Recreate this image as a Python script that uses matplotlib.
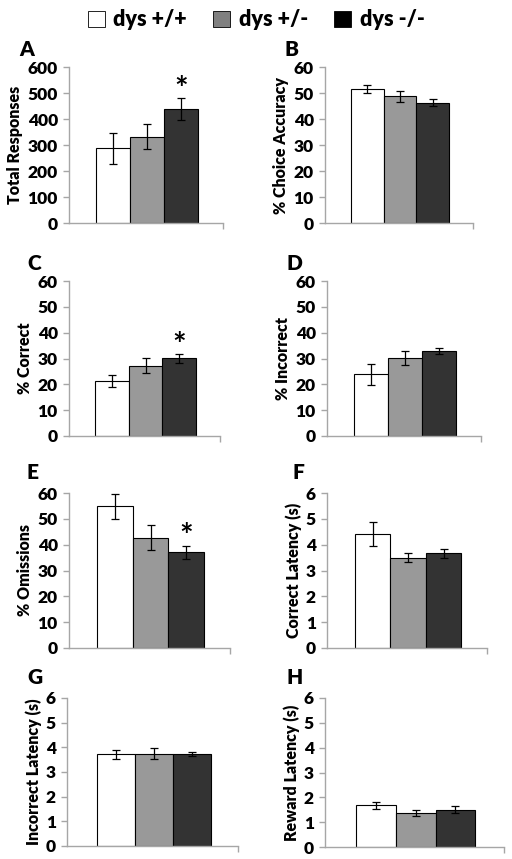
import numpy as np
import matplotlib
matplotlib.use("Agg")
import matplotlib.pyplot as plt
from matplotlib.patches import Patch

plt.rcParams['font.family'] = ['Lato', 'DejaVu Sans']
plt.rcParams['font.weight'] = 'bold'

groups = ["dys +/+", "dys +/-", "dys -/-"]
bar_colors = ["#ffffff", "#999999", "#333333"]
legend_colors = ["#ffffff", "#808080", "#000000"]

letters = ["A", "B", "C", "D", "E", "F", "G", "H"]
ylabels = ["Total Responses", "% Choice Accuracy", "% Correct", "% Incorrect",
           "% Omissions", "Correct Latency (s)", "Incorrect Latency (s)",
           "Reward Latency (s)"]
ymax = [600, 60, 60, 60, 60, 6, 6, 6]
ystep = [100, 10, 10, 10, 10, 1, 1, 1]

total_resp = [287, 332, 439]
total_resp_err = [60, 48, 42]
choice_acc = [51.5, 48.7, 46.3]
choice_acc_err = [1.5, 2.1, 1.4]
pct_correct = [21.2, 27.2, 30.1]
pct_correct_err = [2.3, 3.0, 1.7]
pct_incorrect = [23.9, 30.1, 32.9]
pct_incorrect_err = [4.1, 2.7, 1.3]
pct_omissions = [54.8, 42.7, 37.1]
pct_omissions_err = [4.9, 4.9, 2.5]
correct_lat = [4.41, 3.49, 3.67]
correct_lat_err = [0.47, 0.18, 0.17]
incorrect_lat = [3.71, 3.75, 3.73]
incorrect_lat_err = [0.19, 0.24, 0.10]
reward_lat = [1.68, 1.37, 1.51]
reward_lat_err = [0.15, 0.12, 0.15]

means = [total_resp, choice_acc, pct_correct, pct_incorrect,
         pct_omissions, correct_lat, incorrect_lat, reward_lat]
errs = [total_resp_err, choice_acc_err, pct_correct_err, pct_incorrect_err,
        pct_omissions_err, correct_lat_err, incorrect_lat_err, reward_lat_err]
signif = [True, False, True, False, True, False, False, False]

# axes boxes in pixels: left, right, top, bottom
W, H = 512, 859
boxes = [(69, 223, 67, 223), (325, 473, 67, 223),
         (69, 220, 281, 436), (327, 481, 281, 436),
         (69, 230, 493, 648), (327, 487, 493, 648),
         (67, 238, 698, 846), (325, 504, 698, 847)]
letter_pos = [(19, 49), (285, 49), (27, 263), (286, 263),
              (27, 473), (292, 473), (27, 678), (286, 677)]

fig = plt.figure(figsize=(W / 100, H / 100), dpi=100)
axis_gray = "#a6a6a6"
x = np.arange(3)
xlim = (-1.28, 3.22)

for i in range(8):
    l, r, t, b = boxes[i]
    ax = fig.add_axes([l / W, 1 - b / H, (r - l) / W, (b - t) / H])
    ax.bar(x, means[i], width=1.0, color=bar_colors, edgecolor="black",
           linewidth=0.8, zorder=2)
    ax.errorbar(x, means[i], yerr=errs[i], fmt="none", ecolor="black",
                elinewidth=0.9, capsize=3, capthick=0.9, zorder=3)
    if signif[i]:
        ax.text(2, means[i][2] + errs[i][2] + 0.05 * ymax[i], "*",
                ha="center", va="center", fontsize=23, fontweight="bold")
    ax.set_xlim(*xlim)
    ax.set_ylim(0, ymax[i])
    ax.set_yticks(np.arange(0, ymax[i] + ystep[i] / 2, ystep[i]))
    ax.set_yticklabels([str(int(v)) for v in ax.get_yticks()])
    ax.set_xticks([xlim[1]])
    ax.set_xticklabels([])
    for s in ["top", "right"]:
        ax.spines[s].set_visible(False)
    for s in ["left", "bottom"]:
        ax.spines[s].set_color(axis_gray)
        ax.spines[s].set_linewidth(1)
    ax.tick_params(axis="y", length=4, width=1, color=axis_gray, pad=4,
                   labelsize=12.5)
    ax.tick_params(axis="x", length=4, width=1, color=axis_gray)
    for lab in ax.get_yticklabels():
        lab.set_fontweight("heavy")
    ax.set_ylabel(ylabels[i], fontsize=11.5, fontweight="heavy", labelpad=3)
    fig.text(letter_pos[i][0] / W, 1 - letter_pos[i][1] / H, letters[i],
             fontsize=15, fontweight="heavy", ha="left", va="center")

handles = [Patch(facecolor=c, edgecolor="black", linewidth=0.6) for c in legend_colors]
fig.legend(handles, groups, loc="center", bbox_to_anchor=(0.5, 1 - 20 / H),
           ncol=3, frameon=False, handlelength=0.8, handleheight=0.8,
           handletextpad=0.4, columnspacing=1.2,
           prop={"size": 15.5, "weight": "heavy"})

fig.savefig("out.png", dpi=100)
